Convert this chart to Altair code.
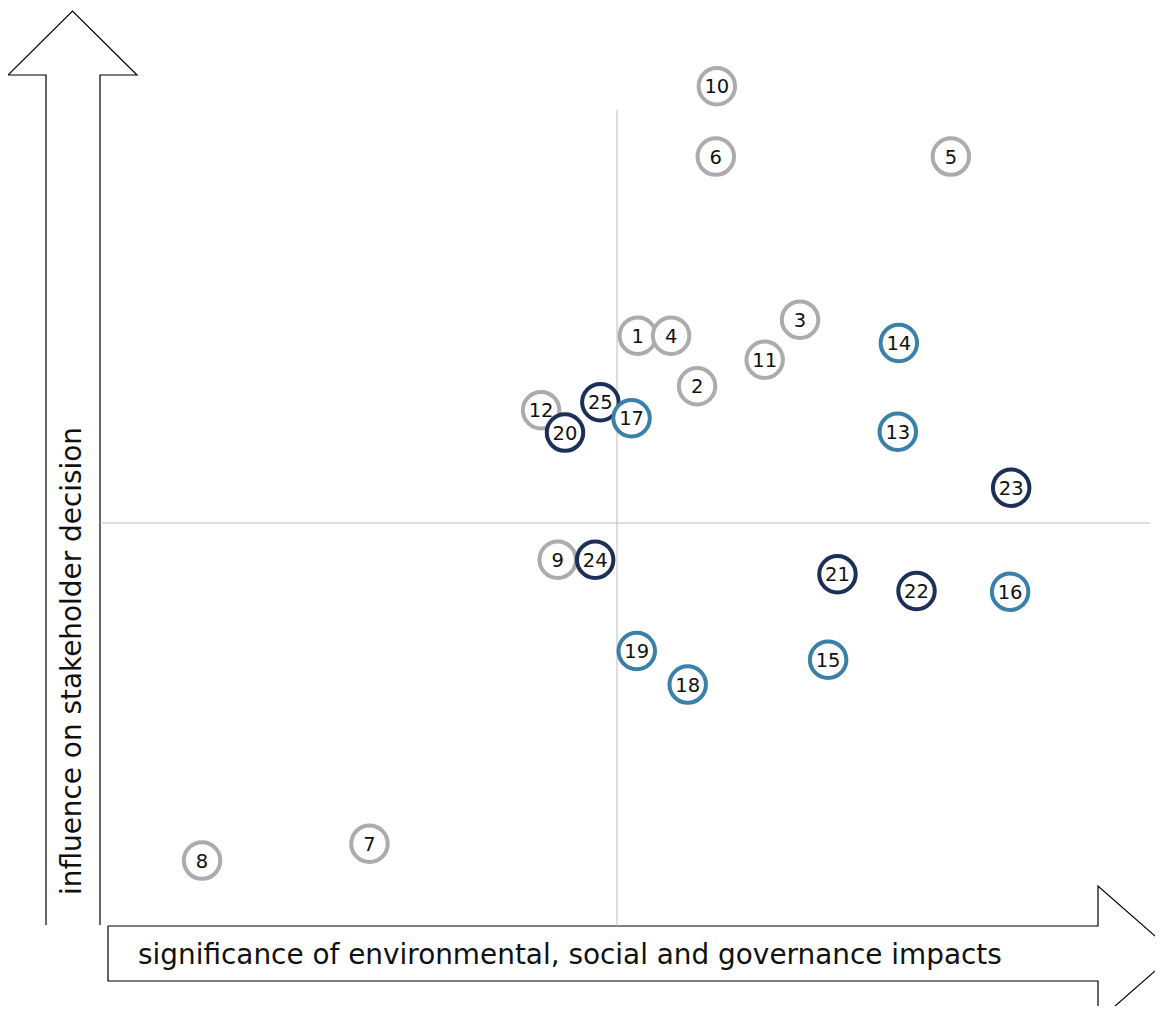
import altair as alt
import pandas as pd

# ---- data (draw order: later items are drawn on top) ----
labels = ["1", "2", "3", "4", "5", "6", "7", "8", "9", "10", "11", "12",
          "25", "13", "14", "15", "16", "17", "18", "19",
          "20", "21", "22", "23", "24"]
significance = [5.20, 5.77, 6.76, 5.52, 8.21, 5.95, 2.62, 1.01, 4.43, 5.96, 6.42, 4.27,
                4.84, 7.70, 7.71, 7.03, 8.78, 5.14, 5.68, 5.19,
                4.50, 7.12, 7.88, 8.79, 4.79]
influence = [7.34, 6.71, 7.54, 7.34, 9.58, 9.58, 0.99, 0.78, 4.54, 10.46, 7.04, 6.41,
             6.51, 6.14, 7.25, 3.29, 4.14, 6.31, 2.98, 3.40,
             6.13, 4.36, 4.15, 5.44, 4.54]
groups = ["A"] * 12 + ["C"] + ["B"] * 7 + ["C"] * 5

group_names = ["A", "B", "C"]
group_colors = ["#acacae", "#3b80a8", "#1b2f57"]

x_title = "significance of environmental, social and governance impacts"
y_title = "influence on stakeholder decision"

# ---- layout (pixels of the page) ----
W, H = 1147, 998
M = 8  # page margin
X0_PX, XU = 97, 104.0   # page x of value 0, px per unit
Y0_PX, YU = 923, 80.0   # page y of value 0, px per unit


def xd(px):
    return (px - X0_PX) / XU


def yd(py):
    return (Y0_PX - py) / YU


xs = alt.Scale(domain=[0, 10], range=[X0_PX - M, X0_PX - M + 10 * XU], nice=False, zero=False)
ys = alt.Scale(domain=[0, 10], range=[Y0_PX - M, Y0_PX - M - 10 * YU], nice=False, zero=False)

points = pd.DataFrame({"label": labels, "x": significance, "y": influence, "group": groups})

# arrow outlines (decoration), page pixels -> data units
up_arrow = [(46, 925), (46, 75), (8, 75), (72.5, 11), (137, 75), (100, 75), (100, 925)]
right_arrow = [(108, 926), (1098, 926), (1098, 886), (1175, 953.5), (1098, 1021), (1098, 981), (108, 981), (108, 926)]
rows = []
for name, pts in (("up", up_arrow), ("right", right_arrow)):
    for i, (px, py) in enumerate(pts):
        rows.append({"arrow": name, "o": i, "x": xd(px), "y": yd(py)})
arrows = pd.DataFrame(rows)

arrow_layer = alt.Chart(arrows).mark_line(
    color="black", strokeWidth=1.2, strokeJoin="miter", clip=False
).encode(
    x=alt.X("x:Q", scale=xs, axis=None),
    y=alt.Y("y:Q", scale=ys, axis=None),
    detail="arrow:N",
    order="o:Q",
)

vline = alt.Chart(pd.DataFrame({"x": [5.0], "y": [yd(926)], "y2": [yd(110)]})).mark_rule(
    color="#bdbdbd", strokeWidth=1
).encode(x=alt.X("x:Q", scale=xs, axis=None), y=alt.Y("y:Q", scale=ys, axis=None), y2="y2:Q")

hline = alt.Chart(pd.DataFrame({"y": [5.0], "x": [xd(100)], "x2": [xd(1150)]})).mark_rule(
    color="#bdbdbd", strokeWidth=1
).encode(y=alt.Y("y:Q", scale=ys, axis=None), x=alt.X("x:Q", scale=xs, axis=None), x2="x2:Q")

circles = alt.Chart(points).mark_point(
    shape="circle", size=1330, fill="white", fillOpacity=1, strokeWidth=4, opacity=1
).encode(
    x=alt.X("x:Q", scale=xs, axis=None),
    y=alt.Y("y:Q", scale=ys, axis=None),
    stroke=alt.Stroke("group:N", scale=alt.Scale(domain=group_names, range=group_colors), legend=None),
)

nums = alt.Chart(points).mark_text(
    font="DejaVu Sans", fontSize=19.5, color="#111111", baseline="middle", align="center", dy=1
).encode(
    x=alt.X("x:Q", scale=xs, axis=None),
    y=alt.Y("y:Q", scale=ys, axis=None),
    text="label:N",
)

xt = alt.Chart(pd.DataFrame({"t": [x_title]})).mark_text(
    font="DejaVu Sans", fontSize=27.9, color="#111111", align="left", baseline="alphabetic"
).encode(x=alt.value(138 - M), y=alt.value(964 - M), text="t:N")

yt = alt.Chart(pd.DataFrame({"t": [y_title]})).mark_text(
    font="DejaVu Sans", fontSize=27.9, color="#111111", align="left", baseline="middle", angle=270
).encode(x=alt.value(73 - M), y=alt.value(895 - M), text="t:N")

chart = alt.layer(arrow_layer, vline, hline, circles, nums, xt, yt).properties(
    width=W, height=H, padding=0, autosize=alt.AutoSizeParams(type="none"), background="white"
).configure_view(stroke=None)

chart.save("out.html", embed_options={"renderer": "svg", "actions": False})
